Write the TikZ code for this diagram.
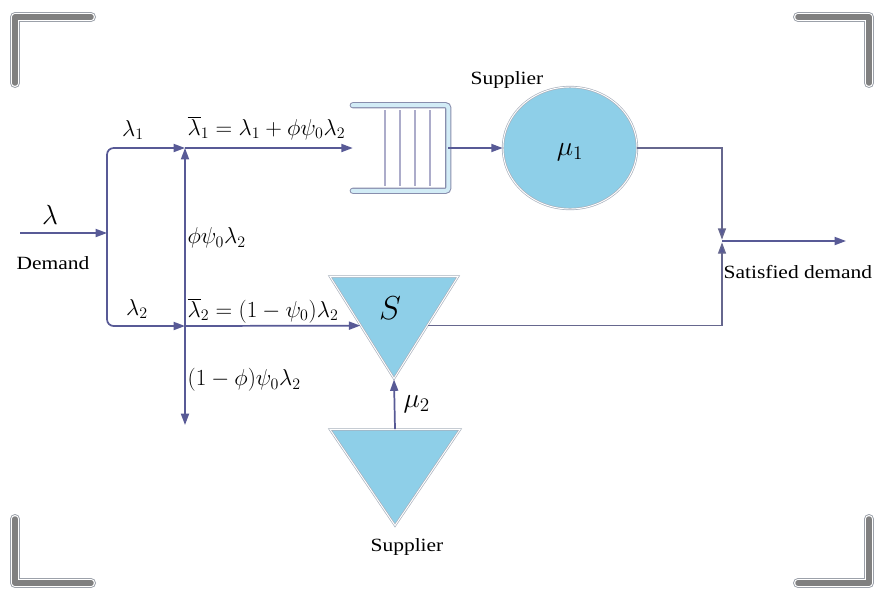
\documentclass[tikz,border=0pt]{standalone}
\usepackage{fontspec}
\setmainfont{Liberation Serif}[FakeStretch=1.15]
\usepackage{tikz}
\usetikzlibrary{positioning,arrows.meta,shapes.geometric}
\definecolor{flowline}{RGB}{88,90,150}
\definecolor{skyfill}{RGB}{142,207,232}
\definecolor{rimgray}{RGB}{168,176,188}
\tikzset{
  flow/.style={flowline, line width=1.3pt, -{Triangle[length=8.5pt,width=6pt]}},
  backflow/.style={draw=flowline!65!gray, line width=1pt, -{Triangle[length=8.5pt,width=6pt,fill=flowline]}},
  stockbox/.style={isosceles triangle, isosceles triangle stretches,
                   shape border rotate=-90, fill=skyfill, draw=rimgray,
                   double=white, double distance=0.7pt, line width=0.5pt, inner sep=0pt},
  srvnode/.style={ellipse, fill=skyfill, draw=rimgray, double=white,
                  double distance=0.7pt, line width=0.5pt, inner sep=0pt},
  rail/.style={draw=flowline!40!rimgray, double=skyfill!40!white, double distance=3pt,
               line width=0.8pt, rounded corners=2pt, line cap=round},
  slot/.style={flowline!50, line width=0.9pt},
  mlabel/.style={font=\fontsize{18.5}{20}\selectfont, inner sep=1pt},
  tlabel/.style={font=\fontsize{14}{16}\selectfont, inner sep=1pt},
}

\begin{document}
\begin{tikzpicture}[x=0.75pt,y=-0.75pt]
  \useasboundingbox (0,0) rectangle (875,590);
  % corner brackets
  \foreach \w/\c in {10/rimgray!70!gray, 8/white, 5.5/gray}{
    \draw[line width=\w*0.75pt, \c, line join=round, line cap=round]
      (15,83) -- (15,17) -- (91,17);
    \draw[line width=\w*0.75pt, \c, line join=round, line cap=round]
      (798,17) -- (869,17) -- (869,83);
    \draw[line width=\w*0.75pt, \c, line join=round, line cap=round]
      (15,519) -- (15,583) -- (91,583);
    \draw[line width=\w*0.75pt, \c, line join=round, line cap=round]
      (798,583) -- (869,583) -- (869,519);
  }
  % demand and split
  \coordinate (src) at (20,233);
  \coordinate (split) at (107,233);
  \coordinate (cross1) at (185,148);
  \coordinate (cross2) at (185,326);
  \coordinate (lost) at (185,425);
  \coordinate (merge) at (722,241);
  \coordinate (out) at (846,241);
  \node[mlabel, font=\fontsize{21}{22}\selectfont] (lam) at (50,215) {$\lambda$};
  \node[tlabel] (dem) at (53,263) {Demand};
  % queue, server, stock
  \node[minimum width=71.25pt, minimum height=63.75pt, inner sep=0pt] (queue) at (400.5,148) {};
  \node[srvnode, minimum width=100.5pt, minimum height=91.5pt] (srv1) at (570,148) {};
  \node[stockbox, minimum width=96pt, minimum height=76.5pt] (stock) at (394,312) {};
  \node[stockbox, minimum width=97.5pt, minimum height=72pt] (sup2) at (395,464) {};
  \draw[rail] (queue.north west) -- (queue.north east) -- (queue.south east) -- (queue.south west);
  \foreach \x in {385,400,415,430}
    \draw[slot] (\x,110) -- (\x,186);
  % flows
  \draw[flow] (src) -- (split);
  \draw[flow, rounded corners=5pt] (split) |- (cross1);
  \draw[flow, rounded corners=5pt] (split) |- (cross2);
  \draw[flow] (cross2) -- (cross1);
  \draw[flow] (cross2) -- (lost);
  \draw[flow] (cross1) -- (queue.west);
  \draw[flow] (cross2) -- (stock.202);
  \draw[flow] (queue.east) -- (srv1.west);
  \draw[backflow, shorten >=1pt] (srv1.east) -| (merge);
  \draw[backflow, shorten >=1pt] (stock.338) -| (merge);
  \draw[flow] (merge) -- (out);
  \draw[flow] (sup2.north) -- (stock.south);
  % labels
  \node[mlabel] (l1) at (133,130) {$\lambda_1$};
  \node[mlabel] (l2) at (137,309) {$\lambda_2$};
  \node[mlabel, anchor=west] (eq1) at (186,128) {$\overline{\lambda}_1=\lambda_1+\phi\psi_0\lambda_2$};
  \node[mlabel, anchor=west] (eq2) at (186,311) {$\overline{\lambda}_2=(1-\psi_0)\lambda_2$};
  \node[mlabel, anchor=west] (up) at (186,238) {$\phi\psi_0\lambda_2$};
  \node[mlabel, anchor=west] (down) at (186,380) {$(1-\phi)\psi_0\lambda_2$};
  \node[mlabel, font=\fontsize{21}{22}\selectfont] (m1) at (570,152) {$\mu_1$};
  \node[mlabel, font=\fontsize{21}{22}\selectfont, anchor=west] (m2) at (402,404) {$\mu_2$};
  \node[font=\fontsize{34}{36}\selectfont] (slbl) at (390,308) {$S$};
  \node[tlabel] (sup1) at (507,80) {Supplier};
  \node[tlabel] (sup2lbl) at (407,547) {Supplier};
  \node[tlabel, anchor=west] (sat) at (722,272) {Satisfied demand};
\end{tikzpicture}
\end{document}
